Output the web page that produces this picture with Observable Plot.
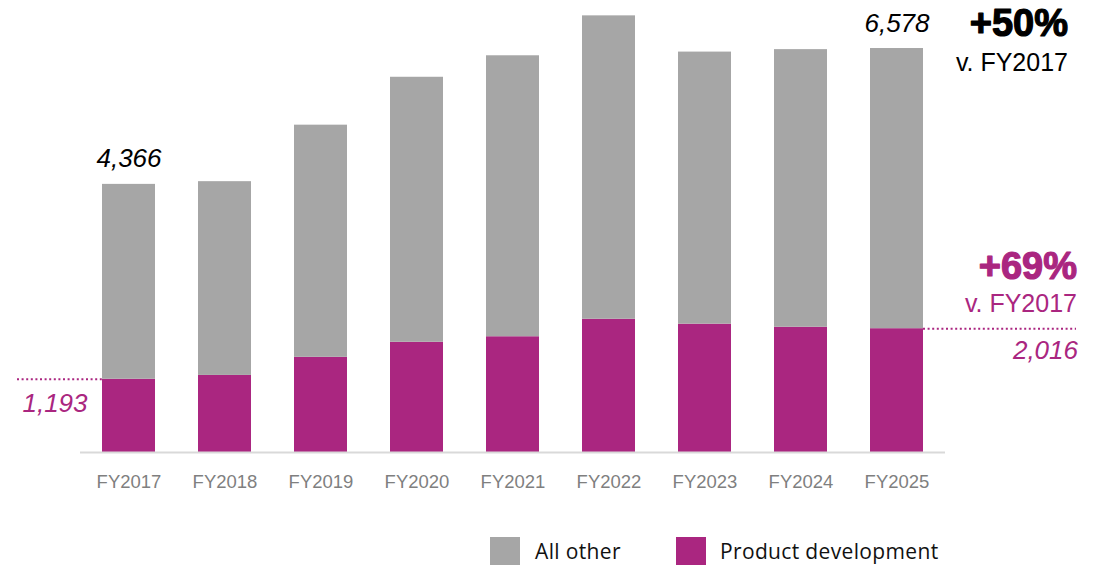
<!DOCTYPE html>
<html>
<head>
<meta charset="utf-8">
<script src="https://cdn.jsdelivr.net/npm/d3@7"></script>
<script src="https://cdn.jsdelivr.net/npm/@observablehq/plot@0.6"></script>
<style>
  html, body { margin: 0; padding: 0; background: #fff; }
  #wrap { position: relative; width: 1104px; height: 565px; overflow: hidden; }
  #chart svg { display: block; }
  .lg-sw { position: absolute; width: 30px; height: 30px; top: 537px; }
  .lg-tx { position: absolute; top: 541px; font-family: "Open Sans", sans-serif; font-size: 21px; letter-spacing: 0.35px; line-height: 20px; color: #111; white-space: nowrap; }
</style>
</head>
<body>
<div id="wrap">
  <div id="chart"></div>
  <div id="legend"></div>
</div>
<script>
// ---- data ----
const years = ["FY2017", "FY2018", "FY2019", "FY2020", "FY2021", "FY2022", "FY2023", "FY2024", "FY2025"];
const productDev = [1193, 1255, 1550, 1795, 1885, 2170, 2090, 2040, 2016];
const allOther   = [3173, 3155, 3780, 4315, 4575, 4940, 4430, 4520, 4562];
const seriesNames = ["Product development", "All other"];
const seriesColors = ["#AA2680", "#A6A6A6"];
const growthTotal = "+50%";
const growthProductDev = "+69%";
const baseLabel = "v. FY2017";

// ---- derived ----
const rows = years.flatMap((y, i) => [
  {year: y, series: seriesNames[0], value: productDev[i]},
  {year: y, series: seriesNames[1], value: allOther[i]}
]);
const totals = years.map((y, i) => productDev[i] + allOther[i]);
const fmt = d3.format(",");
const first = 0, last = years.length - 1;
const purple = seriesColors[0];

const totalPts = [
  {x: years[first], y: totals[first], t: fmt(totals[first])},
  {x: years[last], y: totals[last], t: fmt(totals[last])}
];
const lastTotal = [{x: years[last], y: totals[last]}];
const lastPD = [{x: years[last], y: productDev[last]}];
const firstPD = [{x: years[first], y: productDev[first]}];

const plot = Plot.plot({
  width: 1104,
  height: 500,
  marginTop: 0,
  marginBottom: 48,
  marginLeft: 80,
  marginRight: 159,
  style: {fontFamily: "'Liberation Sans', Arial, sans-serif", background: "#fff"},
  x: {domain: years, paddingInner: 0.45, paddingOuter: 0.225, label: null},
  y: {domain: [0, 7360], axis: null},
  color: {domain: seriesNames, range: seriesColors},
  marks: [
    Plot.barY(rows, {x: "year", y: "value", fill: "series", order: seriesNames}),
    Plot.ruleY([0], {stroke: "#D9D9D9", strokeWidth: 2}),
    Plot.axisX({tickSize: 0, tickPadding: 22, fontSize: 18.5, color: "#7F7F7F", fill: "#7F7F7F", label: null}),
    // total labels
    Plot.text(totalPts, {x: "x", y: "y", text: "t", lineAnchor: "bottom", dy: -17, fontSize: 26, fontStyle: "italic", fill: "#000"}),
    // total growth
    Plot.text(lastTotal, {x: "x", y: "y", text: () => growthTotal, textAnchor: "end", lineAnchor: "bottom", dx: 171, dy: -13, fontSize: 38, fontWeight: "bold", fill: "#000", stroke: "#000", strokeWidth: 1.2}),
    Plot.text(lastTotal, {x: "x", y: "y", text: () => baseLabel, textAnchor: "end", lineAnchor: "bottom", dx: 171, dy: 22, fontSize: 25, fill: "#000"}),
    // product development growth
    Plot.text(lastPD, {x: "x", y: "y", text: () => growthProductDev, textAnchor: "end", lineAnchor: "bottom", dx: 180, dy: -50, fontSize: 38, fontWeight: "bold", fill: purple, stroke: purple, strokeWidth: 1.2}),
    Plot.text(lastPD, {x: "x", y: "y", text: () => baseLabel, textAnchor: "end", lineAnchor: "bottom", dx: 180, dy: -16.5, fontSize: 25, fill: purple}),
    Plot.text(lastPD, {x: "x", y: "y", text: d => fmt(d.y), textAnchor: "end", lineAnchor: "bottom", dx: 181, dy: 30, fontSize: 26, fontStyle: "italic", fill: purple}),
    Plot.text(firstPD, {x: "x", y: "y", text: d => fmt(d.y), textAnchor: "middle", lineAnchor: "bottom", dx: -74, dy: 33, fontSize: 26, fontStyle: "italic", fill: purple}),
    // dotted leaders
    Plot.tickY(lastPD, {x: "x", y: "y", stroke: purple, strokeWidth: 2, strokeDasharray: "2,2.6", insetLeft: 53, insetRight: -153}),
    Plot.tickY(firstPD, {x: "x", y: "y", stroke: purple, strokeWidth: 2, strokeDasharray: "2,2.6", insetLeft: -85, insetRight: 53})
  ]
});
document.getElementById("chart").appendChild(plot);

// legend (HTML, below the SVG)
const legendItems = [
  {name: seriesNames[1], color: seriesColors[1], sw: 490, tx: 535},
  {name: seriesNames[0], color: seriesColors[0], sw: 676, tx: 720}
];
const lg = document.getElementById("legend");
for (const it of legendItems) {
  const s = document.createElement("div");
  s.className = "lg-sw"; s.style.left = it.sw + "px"; s.style.background = it.color;
  const t = document.createElement("div");
  t.className = "lg-tx"; t.style.left = it.tx + "px"; t.textContent = it.name;
  lg.appendChild(s); lg.appendChild(t);
}
</script>
</body>
</html>
